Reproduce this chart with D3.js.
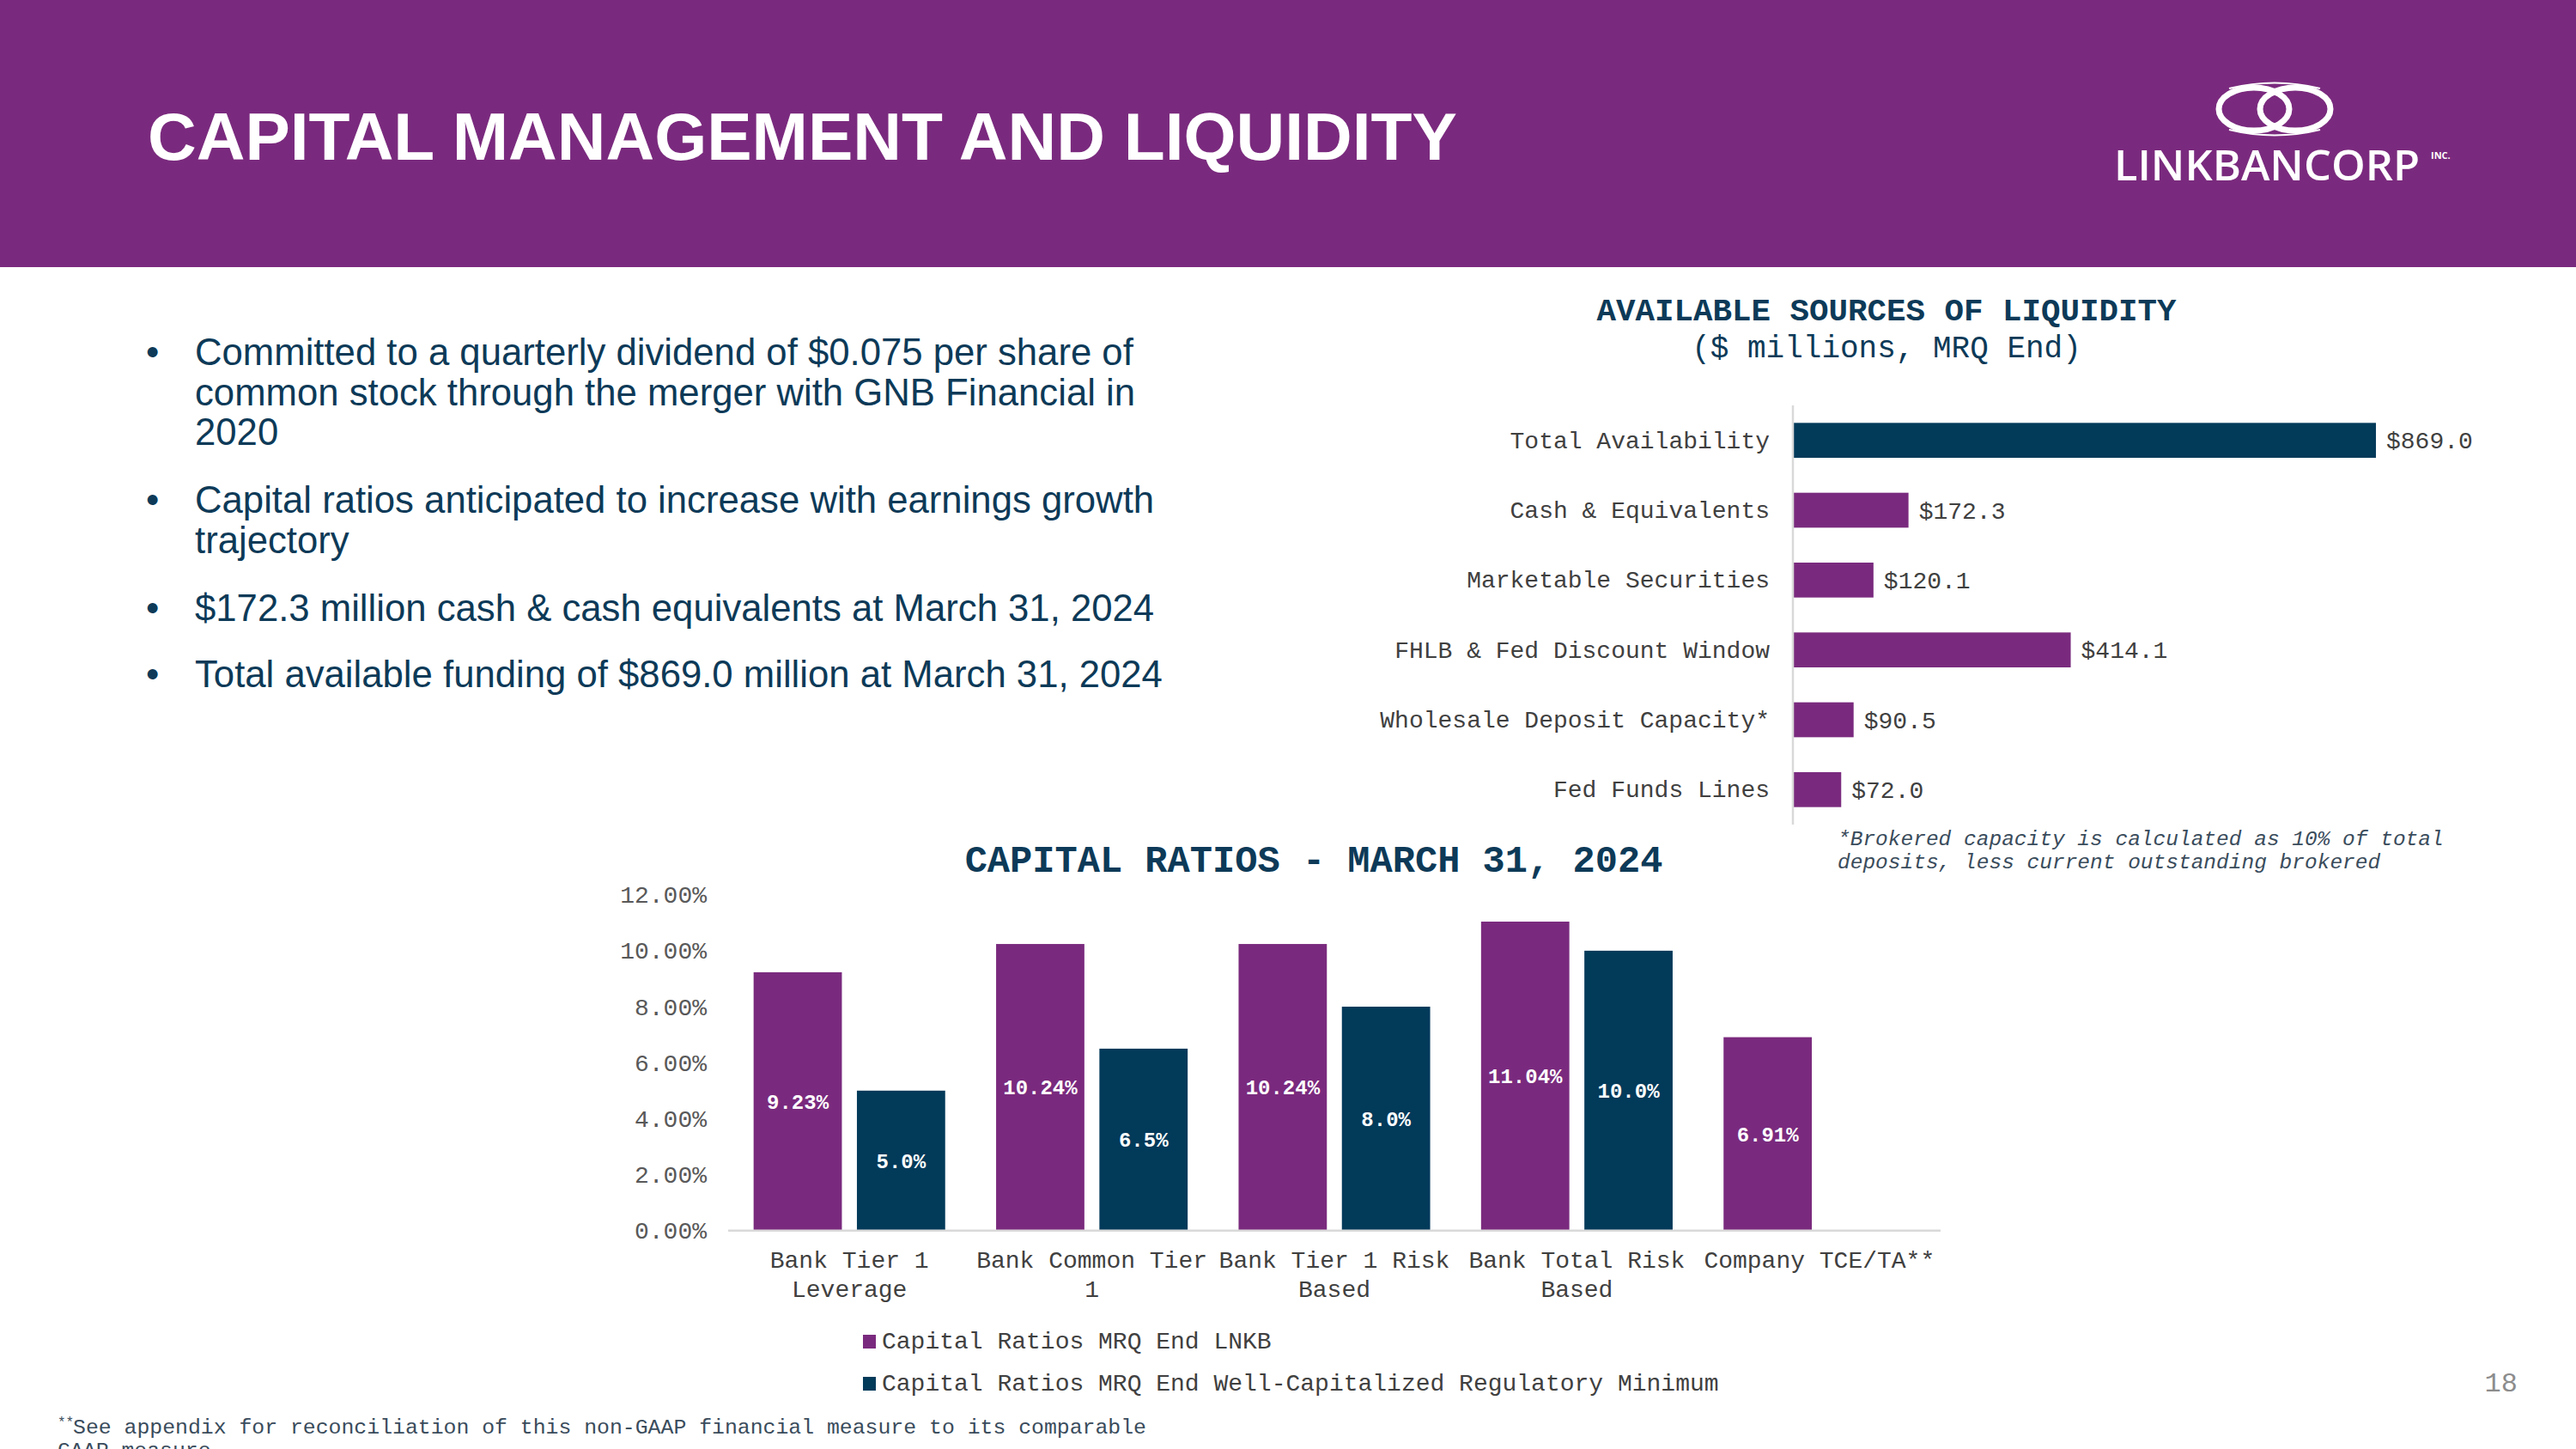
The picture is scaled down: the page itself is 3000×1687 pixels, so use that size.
<!DOCTYPE html>
<html>
<head>
<meta charset="utf-8">
<script src="https://cdn.jsdelivr.net/npm/d3@7"></script>
<style>
  html, body { margin: 0; padding: 0; background: #ffffff; }
  svg { display: block; }
</style>
</head>
<body>
<script>
// ---------------- DATA ----------------
const pageTitle = "CAPITAL MANAGEMENT AND LIQUIDITY";
const bullets = [
  ["Committed to a quarterly dividend of $0.075 per share of", "common stock through the merger with GNB Financial in", "2020"],
  ["Capital ratios anticipated to increase with earnings growth", "trajectory"],
  ["$172.3 million cash & cash equivalents at March 31, 2024"],
  ["Total available funding of $869.0 million at March 31, 2024"]
];

const liqTitle = "AVAILABLE SOURCES OF LIQUIDITY";
const liqSubtitle = "($ millions, MRQ End)";
const liqCategories = ["Total Availability", "Cash & Equivalents", "Marketable Securities", "FHLB & Fed Discount Window", "Wholesale Deposit Capacity*", "Fed Funds Lines"];
const liqValues = [869.0, 172.3, 120.1, 414.1, 90.5, 72.0];
const liqTotalCategory = "Total Availability";
const liqFootnote = ["*Brokered capacity is calculated as 10% of total", "deposits, less current outstanding brokered"];

const capTitle = "CAPITAL RATIOS - MARCH 31, 2024";
const capCategories = ["Bank Tier 1 Leverage", "Bank Common Tier 1", "Bank Tier 1 Risk Based", "Bank Total Risk Based", "Company TCE/TA**"];
const seriesNames = ["Capital Ratios MRQ End LNKB", "Capital Ratios MRQ End Well-Capitalized Regulatory Minimum"];
const lnkbValues = [9.23, 10.24, 10.24, 11.04, 6.91];
const regMinValues = [5.0, 6.5, 8.0, 10.0, null];
const yTicks = [0, 2, 4, 6, 8, 10, 12];
const bottomNote = ["See appendix for reconciliation of this non-GAAP financial measure to its comparable", "GAAP measure"];
const pageNumber = "18";

// ---------------- STYLE ----------------
const PURPLE = "#7a2a7e";
const NAVY = "#023a5a";
const TEXTNAVY = "#0d3a58";
const GREY = "#404040";
const AXIS = "#d9d9d9";
const MONO = "'Liberation Mono', 'Courier New', monospace";
const SANS = "'Liberation Sans', Arial, sans-serif";

const W = 3000, H = 1687;
const svg = d3.select("body").append("svg").attr("width", W).attr("height", H);

// ---------------- HEADER ----------------
svg.append("rect").attr("x", 0).attr("y", 0).attr("width", W).attr("height", 311).attr("fill", PURPLE);
svg.append("text").attr("x", 172).attr("y", 186)
  .attr("font-family", SANS).attr("font-weight", "bold").attr("font-size", 78.5)
  .attr("fill", "#ffffff").text(pageTitle);

// logo
const logo = svg.append("g");
[[2625, 127], [2673, 127]].forEach(([cx, cy]) => {
  logo.append("ellipse").attr("cx", cx).attr("cy", cy).attr("rx", 41).attr("ry", 25)
    .attr("fill", "none").attr("stroke", "#ffffff").attr("stroke-width", 7);
});
logo.append("path").attr("d", "M2596,103 Q2649,90 2702,103").attr("fill", "none").attr("stroke", "#fff").attr("stroke-width", 2);
logo.append("path").attr("d", "M2596,151 Q2649,164 2702,151").attr("fill", "none").attr("stroke", "#fff").attr("stroke-width", 2);
logo.append("text").attr("x", 2462).attr("y", 210)
  .attr("font-family", "'Open Sans', Lato, sans-serif").attr("font-weight", 600).attr("font-size", 48)
  .attr("textLength", 356).attr("lengthAdjust", "spacingAndGlyphs")
  .attr("fill", "#ffffff").text("LINKBANCORP");
logo.append("text").attr("x", 2831).attr("y", 185)
  .attr("font-family", "'Open Sans', sans-serif").attr("font-weight", 700).attr("font-size", 11)
  .attr("fill", "#ffffff").text("INC.");

// ---------------- BULLETS ----------------
const bulletBaselines = [425, 597, 723, 800];
const lineGap = 46.5;
const BULLET_FS = 43.7;
bullets.forEach((lines, i) => {
  svg.append("text").attr("x", 170).attr("y", bulletBaselines[i])
    .attr("font-family", SANS).attr("font-size", BULLET_FS).attr("fill", TEXTNAVY).text("•");
  const t = svg.append("text").attr("font-family", SANS).attr("font-size", BULLET_FS).attr("fill", TEXTNAVY);
  lines.forEach((ln, j) => {
    t.append("tspan").attr("x", 227).attr("y", bulletBaselines[i] + j * lineGap).text(ln);
  });
});

// ---------------- LIQUIDITY CHART ----------------
const liq = svg.append("g");
liq.append("text").attr("x", 2197).attr("y", 373).attr("text-anchor", "middle")
  .attr("font-family", MONO).attr("font-weight", "bold").attr("font-size", 37.5)
  .attr("fill", TEXTNAVY).text(liqTitle);
liq.append("text").attr("x", 2197).attr("y", 416).attr("text-anchor", "middle")
  .attr("font-family", MONO).attr("font-size", 36)
  .attr("fill", TEXTNAVY).text(liqSubtitle);

const ly = d3.scaleBand().domain(liqCategories).range([472, 960]).paddingInner(0.5).paddingOuter(0.25);
const lx = d3.scaleLinear().domain([0, 869]).range([2088, 2767]);

liq.selectAll("rect.lb").data(liqCategories).join("rect")
  .attr("class", "lb")
  .attr("x", lx(0))
  .attr("y", d => ly(d))
  .attr("width", (d, i) => lx(liqValues[i]) - lx(0))
  .attr("height", ly.bandwidth())
  .attr("fill", d => d === liqTotalCategory ? NAVY : PURPLE);

const lAxis = liq.append("g").attr("transform", `translate(${lx(0)},0)`)
  .call(d3.axisLeft(ly).tickSize(0).tickPadding(27));
lAxis.select(".domain").attr("stroke", AXIS).attr("stroke-width", 2.5).attr("d", "M0,472V960");
lAxis.selectAll("text").attr("font-family", MONO).attr("font-size", 28).attr("fill", GREY);

liq.selectAll("text.lv").data(liqCategories).join("text")
  .attr("class", "lv")
  .attr("x", (d, i) => lx(liqValues[i]) + 12)
  .attr("y", d => ly(d) + ly.bandwidth() / 2)
  .attr("dy", "0.35em")
  .attr("font-family", MONO).attr("font-size", 28).attr("fill", GREY)
  .text((d, i) => "$" + d3.format(".1f")(liqValues[i]));

const lf = liq.append("text").attr("font-family", MONO).attr("font-style", "italic")
  .attr("font-size", 24.5).attr("fill", "#3a4c5c");
liqFootnote.forEach((ln, j) => lf.append("tspan").attr("x", 2140).attr("y", 984 + j * 27).text(ln));

// ---------------- CAPITAL RATIOS CHART ----------------
const cap = svg.append("g");
cap.append("text").attr("x", 1530).attr("y", 1015).attr("text-anchor", "middle")
  .attr("font-family", MONO).attr("font-weight", "bold").attr("font-size", 43.7)
  .attr("fill", TEXTNAVY).text(capTitle);

const x0 = d3.scaleBand().domain(capCategories).range([848, 2260]).paddingInner(0.21).paddingOuter(0.105);
const x1 = d3.scaleBand().domain(seriesNames).range([0, x0.bandwidth()]).paddingInner(0.1455);
const yc = d3.scaleLinear().domain([0, 12]).range([1432.7, 1041.7]);
const seriesColor = d3.scaleOrdinal().domain(seriesNames).range([PURPLE, NAVY]);
const seriesValues = [lnkbValues, regMinValues];
const seriesFmt = [d3.format(".2f"), d3.format(".1f")];

const barData = [];
capCategories.forEach((c, i) => {
  seriesNames.forEach((s, k) => {
    const v = seriesValues[k][i];
    if (v != null) barData.push({ c, s, v, k });
  });
});

cap.selectAll("rect.cb").data(barData).join("rect")
  .attr("class", "cb")
  .attr("x", d => x0(d.c) + x1(d.s))
  .attr("y", d => yc(d.v))
  .attr("width", x1.bandwidth())
  .attr("height", d => yc(0) - yc(d.v))
  .attr("fill", d => seriesColor(d.s));

cap.selectAll("text.cv").data(barData).join("text")
  .attr("class", "cv")
  .attr("x", d => x0(d.c) + x1(d.s) + x1.bandwidth() / 2)
  .attr("y", d => (yc(d.v) + yc(0)) / 2)
  .attr("dy", "0.35em")
  .attr("text-anchor", "middle")
  .attr("font-family", MONO).attr("font-size", 24).attr("font-weight", "bold")
  .attr("fill", "#ffffff")
  .text(d => seriesFmt[d.k](d.v) + "%");

// y axis (labels only)
const yAxis = cap.append("g").attr("transform", "translate(823,0)")
  .call(d3.axisLeft(yc).tickValues(yTicks).tickSize(0).tickPadding(0).tickFormat(d => d3.format(".2f")(d) + "%"));
yAxis.select(".domain").remove();
yAxis.selectAll("text").attr("font-family", MONO).attr("font-size", 28).attr("fill", "#595959");

// baseline
cap.append("line").attr("x1", 848).attr("x2", 2260).attr("y1", yc(0)).attr("y2", yc(0))
  .attr("stroke", AXIS).attr("stroke-width", 2.5);

// x category labels (wrapped)
const catG = cap.append("g");
capCategories.forEach(c => {
  const t = catG.append("text").attr("text-anchor", "middle")
    .attr("font-family", MONO).attr("font-size", 28).attr("fill", GREY);
  const words = c.split(" ");
  const maxW = x0.step();
  let lines = [], cur = "";
  const probe = catG.append("text").attr("font-family", MONO).attr("font-size", 28);
  words.forEach(w => {
    const test = cur ? cur + " " + w : w;
    probe.text(test);
    if (probe.node().getComputedTextLength() > maxW && cur) { lines.push(cur); cur = w; }
    else cur = test;
  });
  lines.push(cur);
  probe.remove();
  lines.forEach((ln, j) => {
    t.append("tspan").attr("x", x0(c) + x0.bandwidth() / 2).attr("y", 1476 + j * 33.5).text(ln);
  });
});

// legend
const leg = cap.append("g");
seriesNames.forEach((s, k) => {
  const by = 1570 + k * 49;
  leg.append("rect").attr("x", 1005).attr("y", by - 16).attr("width", 15).attr("height", 16).attr("fill", seriesColor(s));
  leg.append("text").attr("x", 1027).attr("y", by)
    .attr("font-family", MONO).attr("font-size", 28).attr("fill", GREY).text(s);
});

// bottom footnote
const bn = svg.append("text").attr("font-family", MONO).attr("font-size", 24.8).attr("fill", "#3a4c5c");
bn.append("tspan").attr("x", 67).attr("y", 1661).attr("font-size", 16).text("**");
bn.append("tspan").attr("x", 85).attr("y", 1669).text(bottomNote[0]);
bn.append("tspan").attr("x", 67).attr("y", 1696).text(bottomNote[1]);

// page number
svg.append("text").attr("x", 2932).attr("y", 1620).attr("text-anchor", "end")
  .attr("font-family", MONO).attr("font-size", 32).attr("fill", "#8c8c8c").text(pageNumber);
</script>
</body>
</html>
